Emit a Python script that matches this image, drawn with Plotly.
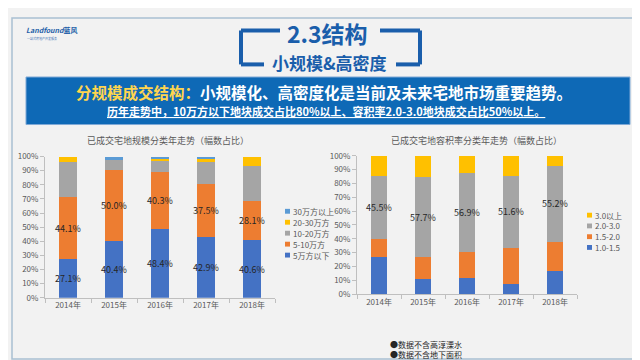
import plotly.graph_objects as go

years = ["2014年", "2015年", "2016年", "2017年", "2018年"]

# Left chart: scale categories (share of plots, %)
scale_names = ["5万方以下", "5-10万方", "10-20万方", "20-30万方", "30万方以上"]
scale_lt5 = [27.1, 40.4, 48.4, 42.9, 40.6]
scale_5_10 = [44.1, 50.0, 40.3, 37.5, 28.1]
scale_10_20 = [25.2, 7.3, 8.1, 16.0, 24.9]
scale_20_30 = [3.6, 0.0, 1.6, 2.0, 6.4]
scale_gt30 = [0.0, 2.3, 1.6, 1.6, 0.0]
scale_series = [scale_lt5, scale_5_10, scale_10_20, scale_20_30, scale_gt30]
scale_labeled = [True, True, False, False, False]

# Right chart: plot-ratio categories (share of plots, %)
far_names = ["1.0-1.5", "1.5-2.0", "2.0-3.0", "3.0以上"]
far_10_15 = [27.0, 11.2, 11.9, 7.7, 17.1]
far_15_20 = [12.7, 15.7, 18.9, 25.9, 20.5]
far_20_30 = [45.5, 57.7, 56.9, 51.6, 55.2]
far_gt30 = [14.8, 15.4, 12.3, 14.8, 7.2]
far_series = [far_10_15, far_15_20, far_20_30, far_gt30]
far_labeled = [False, False, True, False]

colors5 = ["#4472C4", "#ED7D31", "#A5A5A5", "#FFC000", "#5B9BD5"]
colors4 = ["#4472C4", "#ED7D31", "#A5A5A5", "#FFC000"]

FONT = "Noto Sans CJK SC"
W, H = 640, 360

def px(x):
    return x / W

def py(y):
    return 1 - y / H

fig = go.Figure()

for name, vals, col, lab in zip(scale_names, scale_series, colors5, scale_labeled):
    fig.add_trace(go.Bar(
        x=years, y=vals, name=name, marker=dict(color=col, line=dict(width=0)),
        text=[f"{v:.1f}%" for v in vals] if lab else None,
        textposition="inside" if lab else "none", insidetextanchor="middle",
        textangle=0, constraintext="none",
        textfont=dict(size=9, color="#262626", family=FONT),
        xaxis="x", yaxis="y", showlegend=False, hoverinfo="x+y+name"))

for name, vals, col, lab in zip(far_names, far_series, colors4, far_labeled):
    fig.add_trace(go.Bar(
        x=years, y=vals, name=name, marker=dict(color=col, line=dict(width=0)),
        text=[f"{v:.1f}%" for v in vals] if lab else None,
        textposition="inside" if lab else "none", insidetextanchor="middle",
        textangle=0, constraintext="none",
        textfont=dict(size=9, color="#262626", family=FONT),
        xaxis="x2", yaxis="y2", showlegend=False, hoverinfo="x+y+name"))

axis_common_x = dict(type="category", showgrid=False, showline=True, linecolor="#BFBFBF",
                     ticks="outside", tickson="boundaries", ticklen=4, tickcolor="#BFBFBF",
                     tickfont=dict(size=8, color="#595959", family=FONT), fixedrange=True)
axis_common_y = dict(range=[0, 100], dtick=10, ticksuffix="%", showgrid=False, zeroline=False,
                     showline=True, linecolor="#BFBFBF", ticks="outside", ticklen=4,
                     tickcolor="#BFBFBF", tickfont=dict(size=8, color="#595959", family=FONT),
                     fixedrange=True)

fig.update_layout(
    width=W, height=H, margin=dict(l=0, r=0, t=0, b=0),
    paper_bgcolor="#F2F2F2", plot_bgcolor="rgba(0,0,0,0)",
    barmode="stack", bargap=0.62,
    font=dict(family=FONT),
    xaxis=dict(domain=[px(37), px(267)], anchor="y", **axis_common_x),
    yaxis=dict(domain=[py(292.7), py(147)], anchor="x", **axis_common_y),
    xaxis2=dict(domain=[px(349), px(569)], anchor="y2", **axis_common_x),
    yaxis2=dict(domain=[py(289), py(146.3)], anchor="x2", **axis_common_y),
)

shapes = []
annotations = []

def text(t, x, y, size, color, xanchor="center"):
    annotations.append(dict(text=t, x=px(x), y=py(y), xref="paper", yref="paper",
                            xanchor=xanchor, yanchor="middle", showarrow=False,
                            font=dict(size=size, color=color, family=FONT)))

# outer frame
shapes.append(dict(type="rect", xref="paper", yref="paper", x0=px(4), x1=px(636), y0=py(356), y1=py(4),
                   line=dict(color="#A9C0D2", width=1.5), fillcolor="rgba(0,0,0,0)", layer="below"))

# title brackets
bc = "#1A5EAB"
for (x0, y0, x1, y1) in [(233, 17, 272, 17), (233, 17, 233, 52), (233, 52, 256, 52),
                         (372, 17, 412, 17), (412, 17, 412, 52), (388, 52, 412, 52)]:
    shapes.append(dict(type="line", xref="paper", yref="paper", x0=px(x0), x1=px(x1), y0=py(y0), y1=py(y1),
                       line=dict(color=bc, width=4)))

text("<b>2.3结构</b>", 319, 20, 23, bc)
text("<b>小规模&高密度</b>", 321, 50, 17, bc)

# logo
text("<b><i>Landfound</i>蓝风</b>", 16, 17, 7, "#1F5FA8", "left")
text("一站式房地产开发服务", 17, 25, 3, "#4A78B8", "left")

# banner
shapes.append(dict(type="rect", xref="paper", yref="paper", x0=px(18), x1=px(622), y0=py(114), y1=py(65),
                   fillcolor="#0E69B6", line=dict(color="#7FA9D6", width=1), layer="below"))
text("<b><span style='color:#FFD54F'>分规模成交结构：</span>小规模化、高密度化是当前及未来宅地市场重要趋势。</b>",
     316, 80, 15.5, "#FFFFFF")
text("<b><u>历年走势中，10万方以下地块成交占比80%以上、容积率2.0-3.0地块成交占比50%以上。</u></b>",
     318, 100, 11, "#FFFFFF")

# chart titles
text("已成交宅地规模分类年走势（幅数占比）", 160, 131, 9, "#595959")
text("已成交宅地容积率分类年走势（幅数占比）", 468, 131, 9, "#595959")

# legends (drawn manually, reversed order top to bottom)
def legend(names, cols, x, y_top, step):
    for i, (n, c) in enumerate(reversed(list(zip(names, cols)))):
        yy = y_top + i * step
        shapes.append(dict(type="rect", xref="paper", yref="paper", x0=px(x), x1=px(x + 5),
                           y0=py(yy + 2.5), y1=py(yy - 2.5), fillcolor=c, line=dict(width=0)))
        text(n, x + 6, yy, 8, "#595959", "left")

legend(scale_names, colors5, 277, 203.5, 11.3)
legend(far_names, colors4, 579, 207.5, 11.1)

# footnotes
text("●数据不含高淳溧水", 380, 341, 8, "#262626", "left")
text("●数据不含地下面积", 380, 351, 8, "#262626", "left")

fig.update_layout(shapes=shapes, annotations=annotations)

fig.write_html("out.html")
